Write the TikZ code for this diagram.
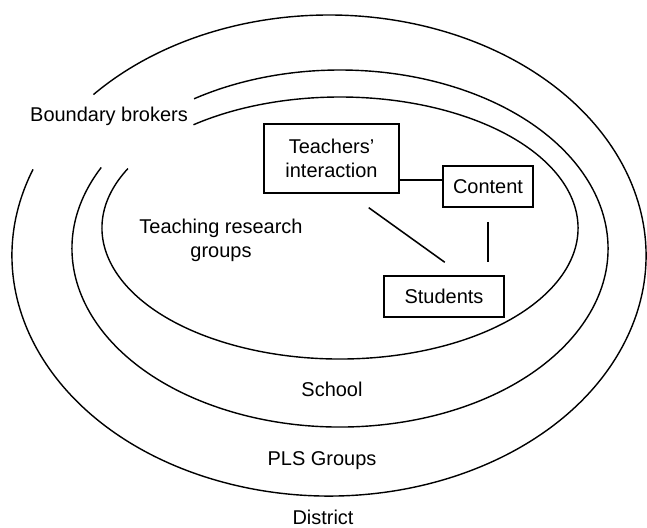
\documentclass[tikz,border=0pt]{standalone}
\usepackage{fontspec}
\setmainfont{Liberation Sans}
\usetikzlibrary{positioning}

\begin{document}
\begin{tikzpicture}[x=0.25mm, y=0.25mm,
    every node/.style={font=\fontsize{14.2}{17}\selectfont},
    box/.style={draw, line width=1.3pt, inner sep=0pt, align=center},
    ring/.style={line width=1pt},
    link/.style={line width=1.1pt}]
  \useasboundingbox (0,0) rectangle (647,527);

  % RINGS (gap left open for the brokers)
  \draw[ring] (340,299) ++(153:238 and 131)
    arc[start angle=153, end angle=488, x radius=238, y radius=131]; % Teaching research groups
  \draw[ring] (340,278.5) ++(153:268 and 178.5)
    arc[start angle=153, end angle=483, x radius=268, y radius=178.5]; % School
  \draw[ring] (329,271.5) ++(159:317 and 240.5)
    arc[start angle=159, end angle=498, x radius=317, y radius=240.5]; % PLS Groups

  % LABELS
  \node[anchor=base] (brokers) at (109,406) {Boundary brokers};
  \node[align=center] (trg) at (221,287) {Teaching research\\groups};
  \node[anchor=base] (school) at (332,131) {School};
  \node[anchor=base] (pls) at (322,62) {PLS Groups};
  \node[anchor=base] (district) at (323,3) {District};

  % BOXES
  \node[box, minimum width=3.375cm, minimum height=1.725cm] (teach) at (331.5,368.5) {Teachers'\\interaction};
  \node[box, minimum width=2.25cm, minimum height=1.025cm] (content) at (488,340.5) {Content};
  \node[box, minimum width=3cm, minimum height=1.025cm] (stud) at (444,230.5) {Students};

  \draw[link] ([yshift=-5.4mm]teach.east) -- ([yshift=-5.4mm]teach.east -| content.west);
  \draw[link, shorten <=5.9mm, shorten >=5.5mm] (teach.-63) -- (stud.49);
  \draw[link, shorten <=3.5mm, shorten >=3.25mm] (content.south) -- (content.south |- stud.north);
\end{tikzpicture}
\end{document}
